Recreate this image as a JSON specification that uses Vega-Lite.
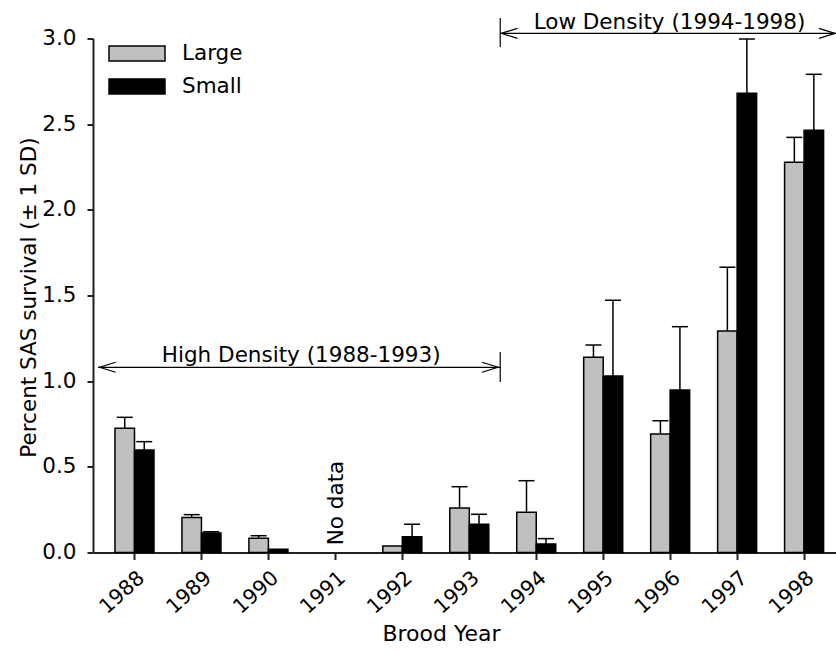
{
  "$schema": "https://vega.github.io/schema/vega-lite/v6.json",
  "width": 743,
  "height": 514,
  "autosize": {"type": "none"},
  "padding": {"left": 93, "top": 38.5, "right": 0, "bottom": 100.5},
  "background": "white",
  "config": {
    "font": "DejaVu Sans",
    "view": {"stroke": null},
    "axis": {
      "grid": false,
      "domainColor": "#222",
      "domainWidth": 2,
      "tickColor": "#222",
      "tickWidth": 2,
      "labelFont": "DejaVu Sans",
      "labelFontSize": 21.5,
      "labelColor": "black",
      "titleFont": "DejaVu Sans",
      "titleFontSize": 21.5,
      "titleFontWeight": "normal",
      "titleColor": "black"
    }
  },
  "datasets": {
    "survival": [
      {"Year": 1988, "Size": "Large", "Mean": 0.725, "Upper": 0.789},
      {"Year": 1988, "Size": "Small", "Mean": 0.598, "Upper": 0.647},
      {"Year": 1989, "Size": "Large", "Mean": 0.205, "Upper": 0.221},
      {"Year": 1989, "Size": "Small", "Mean": 0.114, "Upper": 0.121},
      {"Year": 1990, "Size": "Large", "Mean": 0.083, "Upper": 0.098},
      {"Year": 1990, "Size": "Small", "Mean": 0.019, "Upper": null},
      {"Year": 1992, "Size": "Large", "Mean": 0.038, "Upper": null},
      {"Year": 1992, "Size": "Small", "Mean": 0.092, "Upper": 0.165},
      {"Year": 1993, "Size": "Large", "Mean": 0.26, "Upper": 0.384},
      {"Year": 1993, "Size": "Small", "Mean": 0.165, "Upper": 0.223},
      {"Year": 1994, "Size": "Large", "Mean": 0.235, "Upper": 0.419},
      {"Year": 1994, "Size": "Small", "Mean": 0.05, "Upper": 0.081},
      {"Year": 1995, "Size": "Large", "Mean": 1.139, "Upper": 1.211},
      {"Year": 1995, "Size": "Small", "Mean": 1.03, "Upper": 1.472},
      {"Year": 1996, "Size": "Large", "Mean": 0.692, "Upper": 0.769},
      {"Year": 1996, "Size": "Small", "Mean": 0.948, "Upper": 1.318},
      {"Year": 1997, "Size": "Large", "Mean": 1.293, "Upper": 1.665},
      {"Year": 1997, "Size": "Small", "Mean": 2.68, "Upper": 2.997},
      {"Year": 1998, "Size": "Large", "Mean": 2.277, "Upper": 2.423},
      {"Year": 1998, "Size": "Small", "Mean": 2.464, "Upper": 2.791}
    ],
    "one": [{}]
  },
  "data": {"name": "survival"},
  "layer": [
    {
      "transform": [{"filter": "datum.Size === 'Large'"}],
      "mark": {"type": "bar", "width": 19.5, "xOffset": -9.75, "stroke": "black", "strokeWidth": 1.5},
      "encoding": {
        "x": {
          "field": "Year", "type": "quantitative",
          "scale": {"domain": [1987.455, 1998.402], "nice": false, "zero": false},
          "axis": {
            "values": [1988, 1989, 1990, 1991, 1992, 1993, 1994, 1995, 1996, 1997, 1998],
            "format": "d", "labelAngle": -42, "labelFontSize": 20.5, "tickSize": 7, "labelPadding": 8, "labelOffset": 0,
            "title": "Brood Year", "titleFontSize": 22, "titleX": 348, "titleY": 87.5, "titleBaseline": "alphabetic", "titleAlign": "center"
          }
        },
        "y": {
          "field": "Mean", "type": "quantitative",
          "scale": {"domain": [0, 3], "nice": false},
          "axis": {
            "values": [0, 0.5, 1, 1.5, 2, 2.5, 3], "format": ".1f", "tickSize": 6, "labelPadding": 11,
            "title": "Percent SAS survival (± 1 SD)", "titleX": -58, "titleY": 258.5,
            "titleAngle": -90, "titleAlign": "center", "titleBaseline": "alphabetic"
          }
        },
        "color": {
          "field": "Size", "type": "nominal",
          "scale": {"domain": ["Large", "Small"], "range": ["#c0c0c0", "#000000"]},
          "legend": {
            "title": null, "orient": "none", "legendX": 15, "legendY": 0, "direction": "vertical",
            "symbolType": "M-1,-0.27H1V0.27H-1Z", "symbolSize": 3136,
            "symbolStrokeColor": "black", "symbolStrokeWidth": 1.5, "symbolOpacity": 1,
            "clipHeight": 30, "rowPadding": 3, "labelOffset": 16, "padding": 0,
            "labelFont": "DejaVu Sans", "labelFontSize": 21.5, "labelColor": "black"
          }
        }
      }
    },
    {
      "transform": [{"filter": "datum.Size === 'Small'"}],
      "mark": {"type": "bar", "width": 19.5, "xOffset": 9.75, "stroke": "black", "strokeWidth": 1.5},
      "encoding": {
        "x": {"field": "Year", "type": "quantitative"},
        "y": {"field": "Mean", "type": "quantitative"},
        "color": {"field": "Size", "type": "nominal"}
      }
    },
    {
      "transform": [{"filter": "datum.Size === 'Large' && isValid(datum.Upper)"}],
      "mark": {"type": "rule", "xOffset": -9.75, "color": "black", "strokeWidth": 1.5},
      "encoding": {
        "x": {"field": "Year", "type": "quantitative"},
        "y": {"field": "Mean", "type": "quantitative"},
        "y2": {"field": "Upper"}
      }
    },
    {
      "transform": [{"filter": "datum.Size === 'Small' && isValid(datum.Upper)"}],
      "mark": {"type": "rule", "xOffset": 9.75, "color": "black", "strokeWidth": 1.5},
      "encoding": {
        "x": {"field": "Year", "type": "quantitative"},
        "y": {"field": "Mean", "type": "quantitative"},
        "y2": {"field": "Upper"}
      }
    },
    {
      "transform": [{"filter": "datum.Size === 'Large' && isValid(datum.Upper)"}],
      "mark": {"type": "tick", "orient": "horizontal", "size": 16, "thickness": 1.5, "xOffset": -9.75, "color": "black", "opacity": 1},
      "encoding": {
        "x": {"field": "Year", "type": "quantitative"},
        "y": {"field": "Upper", "type": "quantitative"}
      }
    },
    {
      "transform": [{"filter": "datum.Size === 'Small' && isValid(datum.Upper)"}],
      "mark": {"type": "tick", "orient": "horizontal", "size": 16, "thickness": 1.5, "xOffset": 9.75, "color": "black", "opacity": 1},
      "encoding": {
        "x": {"field": "Year", "type": "quantitative"},
        "y": {"field": "Upper", "type": "quantitative"}
      }
    },
    {
      "data": {"name": "one"},
      "mark": {"type": "rule", "color": "black", "strokeWidth": 1.2},
      "encoding": {
        "x": {"datum": 1987.455, "type": "quantitative"},
        "x2": {"datum": 1993.462},
        "y": {"datum": 1.081, "type": "quantitative"}
      }
    },
    {
      "data": {"name": "one"},
      "mark": {"type": "rule", "color": "black", "strokeWidth": 1.2},
      "encoding": {
        "x": {"datum": 1993.462, "type": "quantitative"},
        "y": {"datum": 1.17, "type": "quantitative"},
        "y2": {"datum": 0.995}
      }
    },
    {
      "data": {"name": "one"},
      "mark": {"type": "point", "shape": "M1.6,-0.5L0,0L1.6,0.5", "size": 400, "filled": false, "color": "black", "strokeWidth": 1.2, "opacity": 1},
      "encoding": {
        "x": {"datum": 1987.48, "type": "quantitative"},
        "y": {"datum": 1.081, "type": "quantitative"}
      }
    },
    {
      "data": {"name": "one"},
      "mark": {"type": "point", "shape": "M-1.6,-0.5L0,0L-1.6,0.5", "size": 400, "filled": false, "color": "black", "strokeWidth": 1.2, "opacity": 1},
      "encoding": {
        "x": {"datum": 1993.43, "type": "quantitative"},
        "y": {"datum": 1.081, "type": "quantitative"}
      }
    },
    {
      "data": {"name": "one"},
      "mark": {"type": "rule", "color": "black", "strokeWidth": 1.2},
      "encoding": {
        "x": {"datum": 1993.462, "type": "quantitative"},
        "x2": {"datum": 1998.47},
        "y": {"datum": 3.03, "type": "quantitative"}
      }
    },
    {
      "data": {"name": "one"},
      "mark": {"type": "rule", "color": "black", "strokeWidth": 1.2},
      "encoding": {
        "x": {"datum": 1993.462, "type": "quantitative"},
        "y": {"datum": 3.12, "type": "quantitative"},
        "y2": {"datum": 2.95}
      }
    },
    {
      "data": {"name": "one"},
      "mark": {"type": "point", "shape": "M1.6,-0.5L0,0L1.6,0.5", "size": 400, "filled": false, "color": "black", "strokeWidth": 1.2, "opacity": 1},
      "encoding": {
        "x": {"datum": 1993.48, "type": "quantitative"},
        "y": {"datum": 3.03, "type": "quantitative"}
      }
    },
    {
      "data": {"name": "one"},
      "mark": {"type": "point", "shape": "M-1.6,-0.5L0,0L-1.6,0.5", "size": 400, "filled": false, "color": "black", "strokeWidth": 1.2, "opacity": 1},
      "encoding": {
        "x": {"datum": 1998.46, "type": "quantitative"},
        "y": {"datum": 3.03, "type": "quantitative"}
      }
    },
    {
      "data": {"name": "one"},
      "mark": {"type": "text", "text": "High Density (1988-1993)", "font": "DejaVu Sans", "fontSize": 21.5, "color": "black", "align": "center", "baseline": "alphabetic"},
      "encoding": {
        "x": {"datum": 1990.49, "type": "quantitative"},
        "y": {"datum": 1.112, "type": "quantitative"}
      }
    },
    {
      "data": {"name": "one"},
      "mark": {"type": "text", "text": "Low Density (1994-1998)", "font": "DejaVu Sans", "fontSize": 21.5, "color": "black", "align": "center", "baseline": "alphabetic"},
      "encoding": {
        "x": {"datum": 1995.99, "type": "quantitative"},
        "y": {"datum": 3.054, "type": "quantitative"}
      }
    },
    {
      "data": {"name": "one"},
      "mark": {"type": "text", "text": "No data", "font": "DejaVu Sans", "fontSize": 21.5, "color": "black", "align": "center", "baseline": "alphabetic", "angle": -90},
      "encoding": {
        "x": {"datum": 1991.12, "type": "quantitative"},
        "y": {"datum": 0.289, "type": "quantitative"}
      }
    }
  ]
}
